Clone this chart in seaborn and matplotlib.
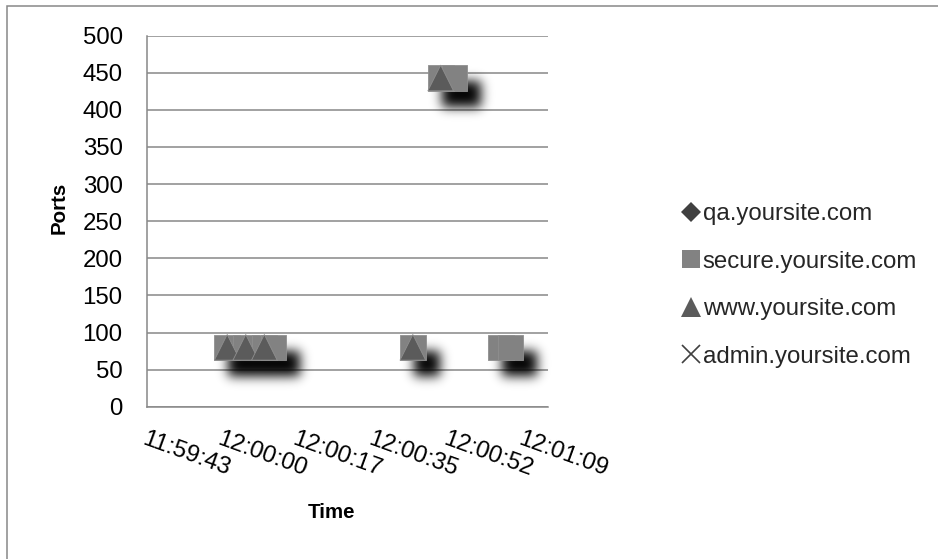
import numpy as np
import pandas as pd
import matplotlib
matplotlib.use("Agg")
import matplotlib.pyplot as plt
import matplotlib.transforms as mtransforms
from matplotlib.lines import Line2D
from matplotlib.patches import Rectangle
import seaborn as sns

# ---- data -------------------------------------------------------------
hosts = ["qa.yoursite.com", "secure.yoursite.com", "www.yoursite.com", "admin.yoursite.com"]

qa_times = []
qa_ports = []
secure_times = ["12:00:00", "12:00:04", "12:00:08", "12:00:10", "12:00:40",
                "12:00:46", "12:00:49", "12:00:59", "12:01:01"]
secure_ports = [80, 80, 80, 80, 80, 443, 443, 80, 80]
www_times = ["12:00:00", "12:00:04", "12:00:08", "12:00:40", "12:00:46"]
www_ports = [80, 80, 80, 80, 443]
admin_times = []
admin_ports = []

# x axis is a time of day expressed as a fraction of a day
x_min, x_max, x_step = 0.4998, 0.5008, 0.0002
y_min, y_max, y_step = 0, 500, 50

# ---- styling ----------------------------------------------------------
host_markers = {hosts[0]: "D", hosts[1]: "s", hosts[2]: "^", hosts[3]: "x"}
host_colors = {hosts[0]: "#404040", hosts[1]: "#828282", hosts[2]: "#5b5b5b", hosts[3]: "#404040"}
legend_sizes = {hosts[0]: 10.0, hosts[1]: 13.0, hosts[2]: 14.0, hosts[3]: 13.0}
GRID = "#888888"
FS = 17.3


def to_day_fraction(times):
    return pd.to_timedelta(pd.Series(times, dtype=object)).dt.total_seconds() / 86400.0


def fmt_time(v):
    s = int(round(v * 86400))
    return f"{s // 3600}:{(s // 60) % 60:02d}:{s % 60:02d}"


frames = []
for h, t, p in [(hosts[0], qa_times, qa_ports), (hosts[1], secure_times, secure_ports),
                (hosts[2], www_times, www_ports), (hosts[3], admin_times, admin_ports)]:
    if len(t):
        frames.append(pd.DataFrame({"day": to_day_fraction(t).values, "port": p, "host": h}))
df = pd.concat(frames, ignore_index=True)
present = list(dict.fromkeys(df["host"]))
plot_markers = {h: host_markers[h] for h in present}
plot_colors = {h: host_colors[h] for h in present}


class DropShadow:
    """agg filter: blurred, offset black copy of whatever the artist draws."""

    def __init__(self, sigma, dx, dy, alpha):
        self.sigma, self.dx, self.dy, self.alpha = sigma, dx, dy, alpha

    def __call__(self, im, dpi):
        k = dpi / 100.0
        sig = self.sigma * k
        dx, dy = int(round(self.dx * k)), int(round(self.dy * k))
        r = int(3 * sig) + 1
        pad = r + max(dx, dy) + 2
        a = np.pad(im[..., 3], pad)
        xs = np.arange(-r, r + 1)
        ker = np.exp(-xs ** 2 / (2 * sig ** 2))
        ker /= ker.sum()
        a = np.apply_along_axis(lambda m: np.convolve(m, ker, mode="same"), 0, a)
        a = np.apply_along_axis(lambda m: np.convolve(m, ker, mode="same"), 1, a)
        a = np.roll(np.roll(a, dy, axis=0), dx, axis=1)
        out = np.zeros(a.shape + (4,), dtype=float)
        out[..., 3] = np.clip(a * self.alpha, 0, 1)
        return out, -pad, -pad


sns.set_theme(style="white")
plt.rcParams["font.family"] = ["Liberation Sans", "DejaVu Sans"]

W, H = 938, 559
fig = plt.figure(figsize=(W / 100, H / 100), dpi=100)
fig.patch.set_facecolor("white")
ax = fig.add_axes([147 / W, 1 - 406.7 / H, (548 - 147) / W, (406.7 - 35.7) / H])

# shadows under the markers
sns.scatterplot(data=df, x="day", y="port", style="host", markers=plot_markers,
                color="black", s=340, linewidth=0, legend=False, ax=ax, zorder=2)
ax.collections[-1].set_agg_filter(DropShadow(sigma=4.0, dx=7, dy=8, alpha=1.0))

# markers
sns.scatterplot(data=df, x="day", y="port", hue="host", palette=plot_colors,
                style="host", markers=plot_markers, s=340, edgecolor="#8f8f8f",
                linewidth=0.6, legend=False, ax=ax, zorder=3)

# axes
ax.set_xlim(x_min, x_max)
ax.set_ylim(y_min, y_max)
n_x = int(round((x_max - x_min) / x_step)) + 1
xticks = x_min + x_step * np.arange(n_x)
ax.set_xticks(xticks, [fmt_time(v) for v in xticks])
ax.set_yticks(np.arange(y_min, y_max + 1, y_step))
ax.yaxis.grid(True, color=GRID, lw=1.1)
ax.xaxis.grid(False)
ax.set_axisbelow(True)
for side in ("top", "right"):
    ax.spines[side].set_visible(False)
for side in ("left", "bottom"):
    ax.spines[side].set_color(GRID)
    ax.spines[side].set_linewidth(1.1)
ax.tick_params(axis="y", length=0, pad=17.5, labelsize=FS, labelcolor="black")
ax.tick_params(axis="x", length=0, pad=15.3, labelsize=FS, labelcolor="black")
for i, lab in enumerate(ax.get_xticklabels()):
    lab.set_rotation(-20)
    lab.set_ha("left")
    lab.set_va("top")
    lab.set_rotation_mode("anchor")
    lab.set_transform(lab.get_transform() +
                      mtransforms.ScaledTranslation(-5 * i / 100, 0, fig.dpi_scale_trans))

ax.set_xlabel("Time", fontsize=14.8, fontweight="bold", color="black")
ax.xaxis.set_label_coords(332 / W, 1 - 512 / H, transform=fig.transFigure)
ax.xaxis.label.set_va("center")
ax.set_ylabel("Ports", fontsize=14.8, fontweight="bold", color="black")
ax.yaxis.set_label_coords(59 / W, 1 - 208 / H, transform=fig.transFigure)
ax.yaxis.label.set_va("center")

# legend
handles = [Line2D([], [], ls="none", marker=host_markers[h], color=host_colors[h],
                  markersize=legend_sizes[h], markeredgewidth=1.2 if host_markers[h] == "x" else 0)
           for h in hosts]
fig.legend(handles, hosts, loc="center left", bbox_to_anchor=(681 / W, 1 - 285.5 / H),
           frameon=False, fontsize=FS, handlelength=0.85, handletextpad=0.05,
           labelspacing=1.06, borderpad=0, borderaxespad=0)

# chart area outline
fig.add_artist(Rectangle((7 / W, -1), 2, 1 + (H - 6) / H, transform=fig.transFigure,
                         fill=False, edgecolor=GRID, lw=1.1))

fig.savefig("out.png", dpi=100)
